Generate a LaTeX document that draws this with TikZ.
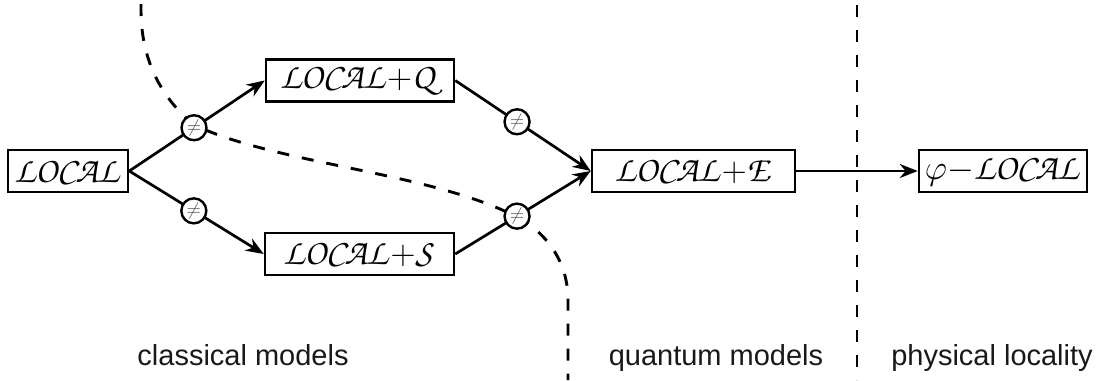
\documentclass[tikz,border=0pt]{standalone}
\usepackage{fontspec}
\newfontfamily\labelfont{Liberation Sans}
\usetikzlibrary{arrows.meta}
\DeclareMathAlphabet{\mathpzc}{OT1}{pzc}{m}{it}
\newcommand{\LOC}{\mathpzc{LOCAL}}
\begin{document}
\begin{tikzpicture}[x=0.5pt,y=-0.5pt,
  box/.style={draw, line width=1.25pt, inner sep=0pt, minimum height=21pt, font=\fontsize{18}{20}\selectfont},
  neq/.style={circle, draw, fill=white, line width=1.2pt, minimum size=12.5pt, inner sep=0pt, font=\small, text=black!65},
  edge/.style={line width=1.35pt, -{Stealth[length=9pt,width=7pt]}},
  sep/.style={line width=1.45pt, dash pattern=on 6pt off 6.5pt},
  lab/.style={font=\labelfont\fontsize{14.5}{17}\selectfont, anchor=base, text=black!90}]
\useasboundingbox (0,0) rectangle (1101,380);
% separators
\draw[sep] (141,4) -- (141,10) .. controls (141,70) and (170,105) .. (194,125)
  .. controls (280,165) and (430,172) .. (517,217)
  .. controls (545,232) and (568,260) .. (568,300) -- (568,380);
\draw[sep] (857,5) -- (857,380);
% nodes
\node[box, minimum width=60pt] (loc) at (68,171) {$\LOC$};
\node[box, minimum width=94pt] (q) at (360,80.5) {$\LOC{+}\mathpzc{Q}$};
\node[box, minimum width=94.5pt] (s) at (359.5,254) {$\LOC{+}\mathpzc{S}$};
\node[box, minimum width=101.5pt] (e) at (693.5,171) {$\LOC{+}\mathpzc{E}$};
\node[box, minimum width=84pt] (p) at (1003,171) {$\varphi{-}\LOC$};
% edges
\draw[edge] (loc.east) -- node[neq, pos=0.478] (n1) {$\neq$} (q.west);
\draw[edge] (loc.east) -- node[neq, pos=0.48] (n2) {$\neq$} (s.west);
\draw[edge] (q.east) -- node[neq, pos=0.456] (n3) {$\neq$} (e.west);
\draw[edge] (s.east) -- node[neq, pos=0.456] (n4) {$\neq$} (e.west);
\draw[edge] (e.east) -- (p.west);
% labels
\node[lab] (l1) at (243,365) {classical models};
\node[lab] (l2) at (716,365) {quantum models};
\node[lab] (l3) at (992,365) {physical locality};
\end{tikzpicture}
\end{document}
